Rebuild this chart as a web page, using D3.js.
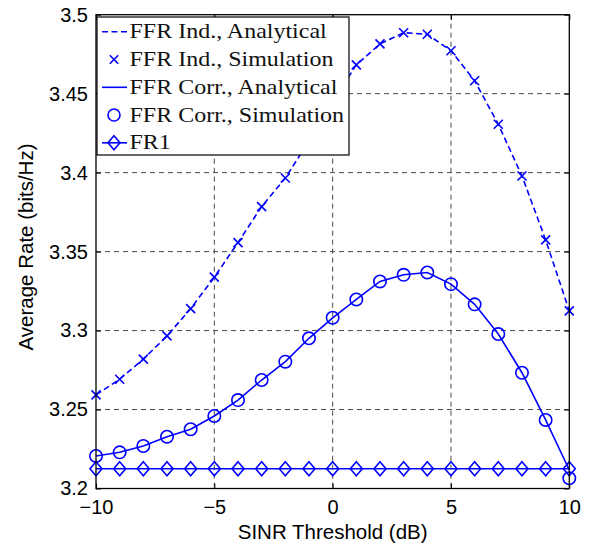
<!DOCTYPE html>
<html>
<head>
<meta charset="utf-8">
<script src="https://cdn.jsdelivr.net/npm/d3@7/dist/d3.min.js"></script>
<style>
  html, body { margin: 0; padding: 0; background: #fff; }
  svg { display: block; }
</style>
</head>
<body>
<svg id="chart" width="595" height="548"></svg>
<script>
// ---- data ----
const snr = [-10,-9,-8,-7,-6,-5,-4,-3,-2,-1,0,1,2,3,4,5,6,7,8,9,10];
const ffrIndAnalytical = [3.2593,3.2692,3.2819,3.2966,3.3139,3.3338,3.3557,3.3785,3.3966,3.4200,3.4450,3.4682,3.4815,3.4886,3.4876,3.4772,3.4582,3.4306,3.3979,3.3574,3.3125];
const ffrIndSimulation = [3.2593,3.2692,3.2819,3.2966,3.3139,3.3338,3.3557,3.3785,3.3966,3.4200,3.4450,3.4682,3.4815,3.4886,3.4876,3.4772,3.4582,3.4306,3.3979,3.3574,3.3125];
const ffrCorrAnalytical = [3.2206,3.2229,3.2269,3.2328,3.2375,3.2459,3.2560,3.2687,3.2803,3.2951,3.3081,3.3197,3.3311,3.3353,3.3368,3.3294,3.3166,3.2978,3.2733,3.2434,3.2117];
const ffrCorrSimulation = [3.2206,3.2229,3.2269,3.2328,3.2375,3.2459,3.2560,3.2687,3.2803,3.2951,3.3081,3.3197,3.3311,3.3353,3.3368,3.3294,3.3166,3.2978,3.2733,3.2434,3.2065];
const fr1 = [3.2125,3.2125,3.2125,3.2125,3.2125,3.2125,3.2125,3.2125,3.2125,3.2125,3.2125,3.2125,3.2125,3.2125,3.2125,3.2125,3.2125,3.2125,3.2125,3.2125,3.2125];
const xTicks = [-10,-5,0,5,10];
const yTicks = [3.2,3.25,3.3,3.35,3.4,3.45,3.5];
const yTickLabels = ["3.2","3.25","3.3","3.35","3.4","3.45","3.5"];
const legendLabels = ["FFR Ind., Analytical","FFR Ind., Simulation","FFR Corr., Analytical","FFR Corr., Simulation","FR1"];
const xTitle = "SINR Threshold (dB)";
const yTitle = "Average Rate (bits/Hz)";

// ---- layout ----
const L = 96, R = 569.3, T = 14.7, B = 488.5;
const blue = "#0000ff";
const svg = d3.select("#chart");
const x = d3.scaleLinear().domain([-10,10]).range([L,R]);
const y = d3.scaleLinear().domain([3.2,3.5]).range([B,T]);

// grid
const grid = svg.append("g").attr("stroke","#4a4a4a").attr("stroke-width",1).attr("stroke-dasharray","5,4");
grid.selectAll("line.gx").data(xTicks.slice(1,-1)).enter().append("line")
  .attr("x1",d=>x(d)).attr("x2",d=>x(d)).attr("y1",T).attr("y2",B);
grid.selectAll("line.gy").data(yTicks.slice(1,-1)).enter().append("line")
  .attr("y1",d=>y(d)).attr("y2",d=>y(d)).attr("x1",L).attr("x2",R);

// axes
const fontSans = "'Liberation Sans', Arial, sans-serif";
const gx = svg.append("g").attr("transform",`translate(0,${B})`)
  .call(d3.axisBottom(x).tickValues(xTicks).tickSizeInner(-5).tickSizeOuter(0).tickPadding(11).tickFormat(d3.format("d")));
const gy = svg.append("g").attr("transform",`translate(${L},0)`)
  .call(d3.axisLeft(y).tickValues(yTicks).tickSizeInner(-5).tickSizeOuter(0).tickPadding(8).tickFormat((d,i)=>yTickLabels[i]));
const gt = svg.append("g").attr("transform",`translate(0,${T})`)
  .call(d3.axisTop(x).tickValues(xTicks).tickSizeInner(-5).tickSizeOuter(0).tickFormat(""));
const gr = svg.append("g").attr("transform",`translate(${R},0)`)
  .call(d3.axisRight(y).tickValues(yTicks).tickSizeInner(-5).tickSizeOuter(0).tickFormat(""));
[gx,gy,gt,gr].forEach(g=>{
  g.select(".domain").remove();
  g.selectAll(".tick line").attr("stroke","#000").attr("stroke-width",1);
  g.selectAll("text").attr("font-family",fontSans).attr("font-size","20px").attr("fill","#000");
});
gx.selectAll("text").attr("dy","0.71em");

// lines
const lineGen = arr => d3.line().x((d,i)=>x(snr[i])).y(d=>y(d))(arr);
const plot = svg.append("g");
plot.append("path").attr("d",lineGen(ffrIndAnalytical)).attr("fill","none").attr("stroke",blue).attr("stroke-width",1.6).attr("stroke-dasharray","6,3.5");
plot.append("path").attr("d",lineGen(ffrCorrAnalytical)).attr("fill","none").attr("stroke",blue).attr("stroke-width",1.6);
plot.append("path").attr("d",lineGen(fr1)).attr("fill","none").attr("stroke",blue).attr("stroke-width",1.6);

// markers
function cross(g, cx, cy, s) {
  g.append("path").attr("d",`M${cx-s},${cy-s}L${cx+s},${cy+s}M${cx-s},${cy+s}L${cx+s},${cy-s}`)
    .attr("stroke",blue).attr("stroke-width",1.6).attr("fill","none");
}
function circ(g, cx, cy, r) {
  g.append("circle").attr("cx",cx).attr("cy",cy).attr("r",r).attr("stroke",blue).attr("stroke-width",1.6).attr("fill","none");
}
function diam(g, cx, cy, w, h) {
  g.append("path").attr("d",`M${cx},${cy-h}L${cx+w},${cy}L${cx},${cy+h}L${cx-w},${cy}Z`)
    .attr("stroke",blue).attr("stroke-width",1.6).attr("fill","none");
}
ffrIndSimulation.forEach((v,i)=>cross(plot,x(snr[i]),y(v),4.5));
ffrCorrSimulation.forEach((v,i)=>circ(plot,x(snr[i]),y(v),6.2));
fr1.forEach((v,i)=>diam(plot,x(snr[i]),y(v),6,7));

// frame
svg.append("rect").attr("x",L).attr("y",T).attr("width",R-L).attr("height",B-T)
  .attr("fill","none").attr("stroke","#000").attr("stroke-width",1.3);

// legend
const lg = svg.append("g");
lg.append("rect").attr("x",97).attr("y",17).attr("width",252).attr("height",138)
  .attr("fill","#fff").attr("stroke","#000").attr("stroke-width",1.2);
const rowY = [31.7,59.5,87.3,115,142.8];
const sx0 = 102, sx1 = 127, smid = 114;
lg.append("line").attr("x1",sx0).attr("x2",sx1).attr("y1",rowY[0]).attr("y2",rowY[0]).attr("stroke",blue).attr("stroke-width",1.6).attr("stroke-dasharray","6,3.5");
cross(lg, smid, rowY[1], 4.2);
lg.append("line").attr("x1",sx0).attr("x2",sx1).attr("y1",rowY[2]).attr("y2",rowY[2]).attr("stroke",blue).attr("stroke-width",1.6);
circ(lg, smid, rowY[3], 6);
lg.append("line").attr("x1",sx0).attr("x2",sx1).attr("y1",rowY[4]).attr("y2",rowY[4]).attr("stroke",blue).attr("stroke-width",1.6);
diam(lg, smid, rowY[4], 6, 7);
legendLabels.forEach((t,i)=>{
  lg.append("text").attr("transform",`translate(129.5,${rowY[i]+6.6}) scale(1.2,1)`)
    .attr("font-family","'Liberation Serif', 'Times New Roman', serif").attr("font-size","20px").attr("fill","#111").text(t);
});

// titles
svg.append("text").attr("x",(L+R)/2).attr("y",539).attr("text-anchor","middle")
  .attr("font-family",fontSans).attr("font-size","20.5px").attr("fill","#000").text(xTitle);
svg.append("text").attr("transform",`translate(33,247) rotate(-90)`).attr("text-anchor","middle")
  .attr("font-family",fontSans).attr("font-size","20.5px").attr("fill","#000").text(yTitle);
</script>
</body>
</html>
